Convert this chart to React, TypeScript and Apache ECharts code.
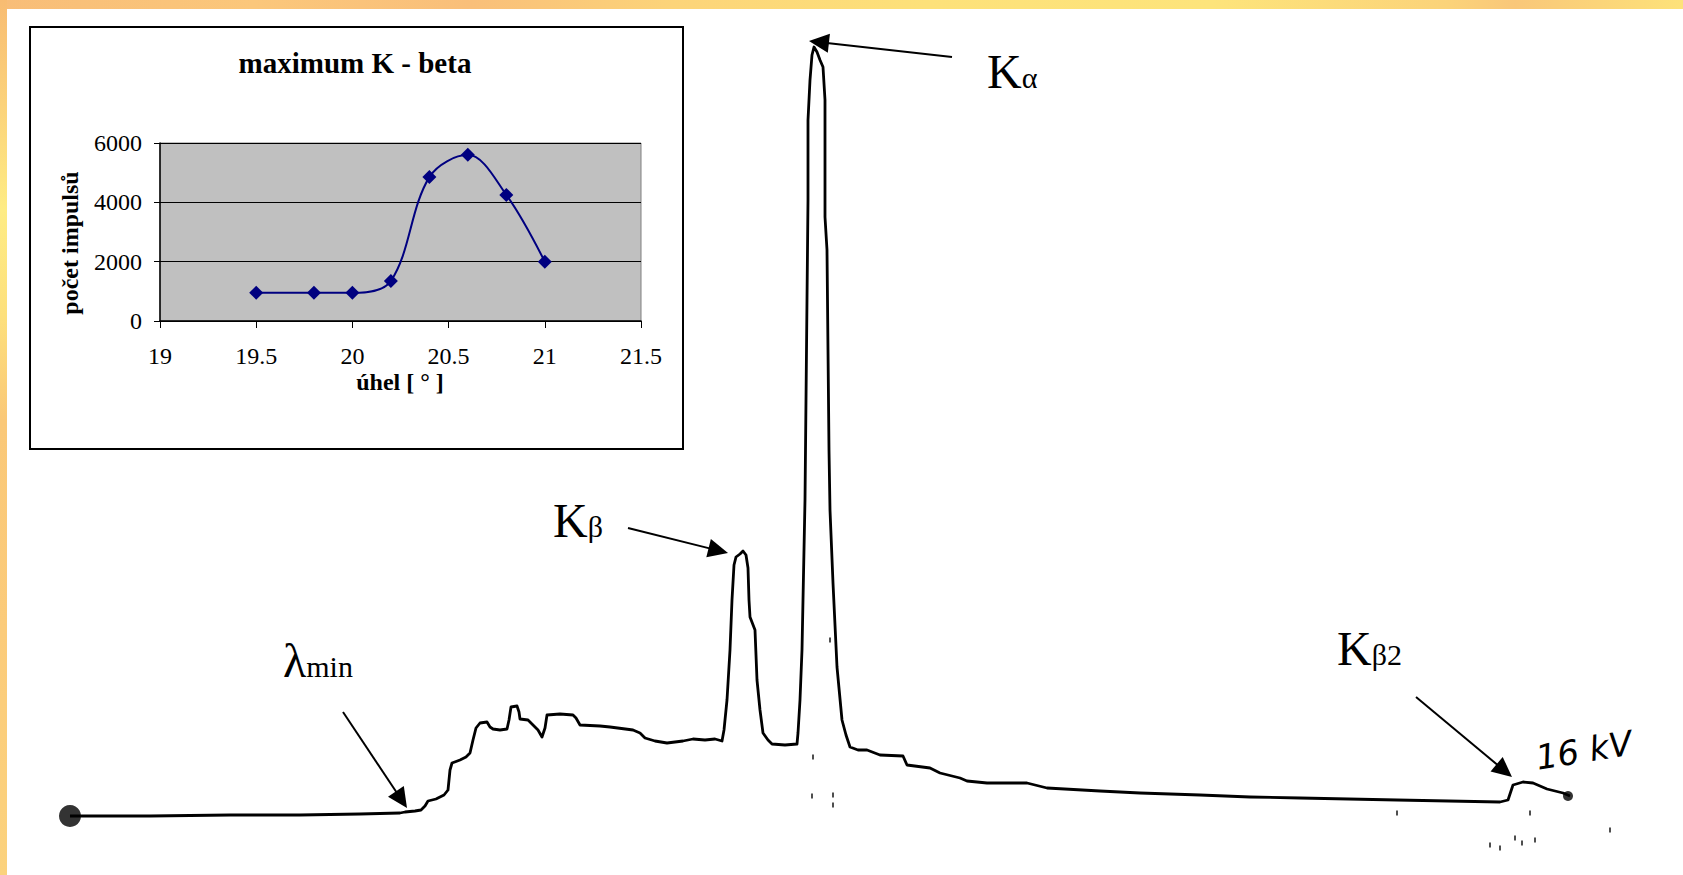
import React, { useEffect, useRef } from "react";
import * as echarts from "echarts";

// ---------- Inset: "maximum K - beta" scan ----------
const insetAngle = [19.5, 19.8, 20.0, 20.2, 20.4, 20.6, 20.8, 21.0];
const insetCounts = [950, 950, 950, 1350, 4850, 5600, 4250, 2000];
const insetXRange = [19, 21.5, 0.5];
const insetYRange = [0, 6000, 2000];
const insetTitle = "maximum K - beta";
const insetXName = "úhel [ ° ]";
const insetYName = "počet impulsů";

// ---------- Main recorder trace (position along paper, pen deflection above baseline) ----------
const tracePos = [
  70, 150, 230, 300, 360, 400, 405, 415, 421, 425, 428, 436, 444, 448, 450, 452, 460, 466, 470, 473,
  476, 480, 487, 490, 493, 500, 507, 509, 511, 517, 519, 520, 528, 533, 538, 542, 545, 547, 560, 573,
  576, 580, 600, 610, 633, 640, 645, 655, 667, 675, 683, 693, 705, 715, 722, 724, 727, 730, 732, 734,
  736, 740, 743, 746, 748, 749, 750, 755, 757, 760, 763, 768, 772, 785, 797, 798, 800, 802, 803, 805,
  806, 807, 808, 808, 810, 812, 814, 817, 820, 823, 825, 825, 827, 828, 829, 830, 833, 837, 842, 846,
  850, 858, 867, 880, 903, 907, 930, 940, 960, 967, 987, 1027, 1047, 1100, 1140, 1200, 1250, 1300, 1397, 1500,
  1508, 1513, 1523, 1533, 1547, 1563, 1570,
];
const traceSignal = [
  0, 0, 1, 1, 2, 3, 4, 5, 6, 10, 15, 17, 21, 26, 46, 53, 56, 59, 63, 76,
  88, 93, 94, 89, 87, 86, 87, 96, 109, 110, 104, 97, 96, 91, 86, 79, 88, 101, 102, 101,
  98, 91, 90, 89, 86, 83, 78, 75, 73, 74, 75, 77, 76, 77, 75, 86, 116, 166, 216, 251,
  259, 262, 265, 261, 248, 216, 199, 186, 136, 106, 83, 76, 72, 71, 72, 83, 116, 166, 216, 316,
  416, 516, 616, 696, 736, 761, 769, 764, 756, 749, 716, 599, 566, 466, 366, 306, 233, 149, 96, 81,
  69, 66, 66, 61, 60, 51, 48, 43, 38, 35, 33, 33, 28, 25, 23, 21, 19, 18, 16, 14,
  16, 31, 34, 33, 27, 23, 20,
];
// ink blobs where the pen started and stopped
const blobPos = [70, 1568];
const blobSignal = [0, 20];
const blobSize = [22, 10];
// stray specks on the scan
const speckPos = [812, 813, 833, 833, 830, 1397, 1530, 1490, 1500, 1515, 1522, 1535, 1610];
const speckSignal = [20, 59, 21, 11, 176, 3, 3, -29, -32, -22, -27, -24, -14];

// ---------- Annotations ----------
const labelMain = ["λ", "K", "K", "K"];
const labelSub = ["min", "β", "α", "β2"];
const labelPos = [283, 553, 987, 1337];
const labelSignal = [139, 279, 728, 151];
const arrowFromPos = [343, 628, 952, 1416];
const arrowFromSignal = [104, 288, 759, 119];
const arrowToPos = [407, 728, 809, 1512];
const arrowToSignal = [8, 263, 775, 39];
const voltageNote = "16 kV";

const SERIF = "'Liberation Serif', 'Times New Roman', serif";

function measure(text: string, font: string): number {
  const c = document.createElement("canvas").getContext("2d");
  if (!c) return text.length * 20;
  c.font = font;
  return c.measureText(text).width;
}

export default function App() {
  const ref = useRef<HTMLDivElement>(null);
  useEffect(() => {
    document.body.style.margin = "0";
    const chart = echarts.init(ref.current!, undefined, { renderer: "svg" });
    const MAIN_FS = 48;
    const SUB_FS = 30;
    const central = 0.3375;

    const option: any = {
      animation: false,
      backgroundColor: "#ffffff",
      grid: [
        { left: 0, top: 0, width: 1683, height: 875, show: false },
        {
          left: 160, top: 143, width: 481, height: 178, show: true,
          backgroundColor: "#c0c0c0", borderColor: "#808080", borderWidth: 1,
        },
      ],
      xAxis: [
        { type: "value", gridIndex: 0, min: 0, max: 1683, show: false },
        {
          type: "value", gridIndex: 1, min: insetXRange[0], max: insetXRange[1], interval: insetXRange[2],
          axisLine: { show: true, onZero: false, lineStyle: { color: "#000", width: 1.5 } },
          axisTick: { show: true, length: 7, lineStyle: { color: "#000", width: 1 } },
          axisLabel: { margin: 23, fontFamily: SERIF, fontSize: 24, color: "#000", formatter: (v: number) => String(v) },
          splitLine: { show: false },
        },
      ],
      yAxis: [
        { type: "value", gridIndex: 0, min: -59, max: 816, show: false },
        {
          type: "value", gridIndex: 1, min: insetYRange[0], max: insetYRange[1], interval: insetYRange[2],
          axisLine: { show: true, lineStyle: { color: "#000", width: 1.5 } },
          axisTick: { show: true, length: 6, lineStyle: { color: "#000", width: 1 } },
          axisLabel: { margin: 18, fontFamily: SERIF, fontSize: 24, color: "#000", formatter: (v: number) => String(v) },
          splitLine: { show: true, lineStyle: { color: "#000", width: 1 } },
        },
      ],
      graphic: [
        {
          type: "rect", z: -1, shape: { x: 0, y: 0, width: 1683, height: 9 },
          style: {
            fill: new echarts.graphic.LinearGradient(0, 0, 1, 0, [
              { offset: 0, color: "#f8bd78" }, { offset: 0.15, color: "#fbc77b" },
              { offset: 0.28, color: "#f9bf7a" }, { offset: 0.4, color: "#fcd47a" },
              { offset: 0.55, color: "#fde17a" }, { offset: 0.72, color: "#fde47b" },
              { offset: 0.86, color: "#fbd37a" }, { offset: 0.9, color: "#f9c77a" },
              { offset: 1, color: "#fde27a" },
            ]),
          },
        },
        {
          type: "rect", z: -1, shape: { x: 0, y: 0, width: 7, height: 875 },
          style: {
            fill: new echarts.graphic.LinearGradient(0, 0, 0, 1, [
              { offset: 0, color: "#f8bc72" }, { offset: 0.12, color: "#fbd27a" },
              { offset: 0.24, color: "#feec84" }, { offset: 0.36, color: "#fde07c" },
              { offset: 0.48, color: "#fac878" }, { offset: 0.72, color: "#fbcb7a" },
              { offset: 1, color: "#fbd27d" },
            ]),
          },
        },
        {
          type: "rect", z: -1, shape: { x: 30, y: 27, width: 653, height: 422 },
          style: { fill: "#ffffff", stroke: "#000", lineWidth: 2 },
        },
        {
          type: "text", x: 355, y: 73 - central * 29,
          style: { text: insetTitle, fontFamily: SERIF, fontSize: 29, fontWeight: "bold", fill: "#000", align: "center", verticalAlign: "middle" },
        },
        {
          type: "text", x: 400, y: 390 - central * 24,
          style: { text: insetXName, fontFamily: SERIF, fontSize: 24, fontWeight: "bold", fill: "#000", align: "center", verticalAlign: "middle" },
        },
        {
          type: "text", x: 78 - central * 24, y: 243, rotation: Math.PI / 2,
          style: { text: insetYName, fontFamily: SERIF, fontSize: 24, fontWeight: "bold", fill: "#000", align: "center", verticalAlign: "middle" },
        },
        {
          type: "text", x: 1536, y: 758, rotation: 0.16,
          style: { text: voltageNote, fontFamily: "'DejaVu Sans', sans-serif", fontStyle: "italic", fontSize: 34, fill: "#000", align: "left", verticalAlign: "middle" },
        },
      ],
      series: [
        {
          type: "line", xAxisIndex: 0, yAxisIndex: 0, showSymbol: false, symbol: "none",
          data: tracePos.map((x, i) => [x, traceSignal[i]]),
          lineStyle: { color: "#000", width: 2.8, join: "round" }, z: 3,
        },
        {
          type: "scatter", xAxisIndex: 0, yAxisIndex: 0,
          data: blobPos.map((x, i) => [x, blobSignal[i]]),
          symbol: "circle", symbolSize: (_v: any, p: any) => blobSize[p.dataIndex],
          itemStyle: { color: "#000" }, z: 4,
        },
        {
          type: "scatter", xAxisIndex: 0, yAxisIndex: 0,
          data: speckPos.map((x, i) => [x, speckSignal[i]]),
          symbol: "rect", symbolSize: [2, 5], itemStyle: { color: "#222" },
        },
        {
          type: "custom", xAxisIndex: 0, yAxisIndex: 0, clip: false, z: 5,
          data: arrowFromPos.map((x, i) => [x, arrowFromSignal[i], arrowToPos[i], arrowToSignal[i]]),
          renderItem: (_params: any, api: any) => {
            const p1 = api.coord([api.value(0), api.value(1)]);
            const p2 = api.coord([api.value(2), api.value(3)]);
            const dx = p2[0] - p1[0], dy = p2[1] - p1[1];
            const len = Math.hypot(dx, dy) || 1;
            const ux = dx / len, uy = dy / len;
            const L = 20, W = 9.5;
            const bx = p2[0] - ux * L, by = p2[1] - uy * L;
            return {
              type: "group",
              children: [
                { type: "line", shape: { x1: p1[0], y1: p1[1], x2: bx + ux * 2, y2: by + uy * 2 }, style: { stroke: "#000", lineWidth: 2 } },
                {
                  type: "polygon",
                  shape: { points: [[p2[0], p2[1]], [bx - uy * W, by + ux * W], [bx + uy * W, by - ux * W]] },
                  style: { fill: "#000" },
                },
              ],
            };
          },
        },
        {
          type: "custom", xAxisIndex: 0, yAxisIndex: 0, clip: false, z: 5,
          data: labelPos.map((x, i) => [x, labelSignal[i]]),
          renderItem: (params: any, api: any) => {
            const i = params.dataIndex;
            const p = api.coord([api.value(0), api.value(1)]);
            const mainText = labelMain[i];
            const w = measure(mainText, `${MAIN_FS}px ${SERIF}`);
            return {
              type: "group",
              children: [
                {
                  type: "text", x: p[0], y: p[1] - central * MAIN_FS,
                  style: { text: mainText, fontFamily: SERIF, fontSize: MAIN_FS, fill: "#000", align: "left", verticalAlign: "middle" },
                },
                {
                  type: "text", x: p[0] + w, y: p[1] - central * SUB_FS,
                  style: { text: labelSub[i], fontFamily: SERIF, fontSize: SUB_FS, fill: "#000", align: "left", verticalAlign: "middle" },
                },
              ],
            };
          },
        },
        {
          type: "line", xAxisIndex: 1, yAxisIndex: 1,
          data: insetAngle.map((x, i) => [x, insetCounts[i]]),
          smooth: 0.35, symbol: "diamond", symbolSize: 14,
          lineStyle: { color: "#000080", width: 2 },
          itemStyle: { color: "#000080" }, z: 3,
        },
      ],
    };
    chart.setOption(option);
    return () => chart.dispose();
  }, []);
  return <div ref={ref} style={{ position: "fixed", left: 0, top: 0, width: 1683, height: 875 }} />;
}
